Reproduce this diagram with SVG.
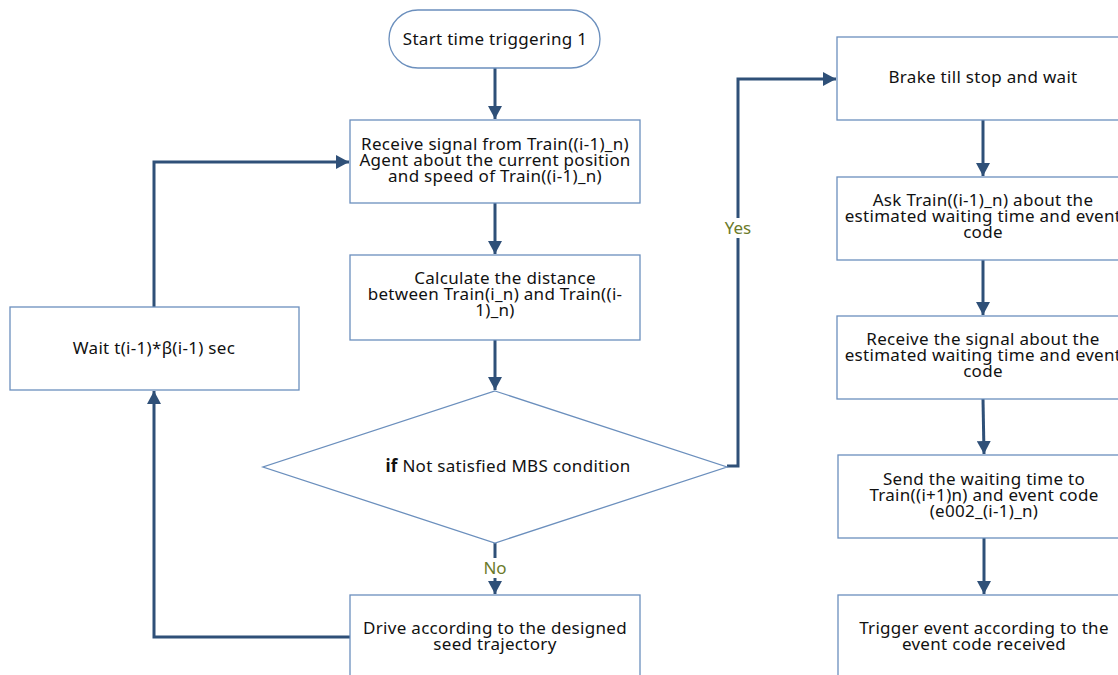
<svg xmlns="http://www.w3.org/2000/svg" width="1118" height="675" viewBox="0 0 1118 675">
<defs>
<marker id="ah" markerUnits="userSpaceOnUse" markerWidth="14" markerHeight="14" viewBox="0 0 14 14" refX="13" refY="7" orient="auto">
<path d="M0,0 L13,7 L0,14 Z" fill="#2f5078"/>
</marker>
<style>
.n{fill:#fff;stroke:#6b8fbd;stroke-width:1.3}
.t{font-family:"Noto Sans","Open Sans",sans-serif;font-size:17px;letter-spacing:0.3px;fill:#111;text-anchor:middle}
.c{fill:none;stroke:#2f5078;stroke-width:3}
.lb{font-family:"Noto Sans","Open Sans",sans-serif;font-size:17px;fill:#6b7a2a;text-anchor:middle}
</style>
</defs>
<rect width="1118" height="675" fill="#fff"/>
<g id="connectors">
<line class="c" x1="495" y1="68" x2="495" y2="119" marker-end="url(#ah)"/>
<line class="c" x1="495" y1="203" x2="495" y2="254" marker-end="url(#ah)"/>
<line class="c" x1="495" y1="340" x2="495" y2="390" marker-end="url(#ah)"/>
<line class="c" x1="495" y1="543" x2="495" y2="594" marker-end="url(#ah)"/>
<polyline class="c" points="727,466 738,466 738,79 836,79" marker-end="url(#ah)"/>
<polyline class="c" points="350,637 154,637 154,391" marker-end="url(#ah)"/>
<polyline class="c" points="154,307 154,162 349,162" marker-end="url(#ah)"/>
<line class="c" x1="983" y1="120" x2="983" y2="176" marker-end="url(#ah)"/>
<line class="c" x1="983" y1="260" x2="983" y2="315" marker-end="url(#ah)"/>
<line class="c" x1="983" y1="399" x2="984" y2="454" marker-end="url(#ah)"/>
<line class="c" x1="984" y1="538" x2="984" y2="594" marker-end="url(#ah)"/>
<rect x="722" y="218" width="32" height="20" fill="#fff"/>
<text class="lb" x="738" y="234">Yes</text>
<rect x="480" y="558" width="30" height="20" fill="#fff"/>
<text class="lb" x="495" y="574">No</text>
</g>
<g id="start">
<rect class="n" x="389" y="10" width="211" height="58" rx="29"/>
<text class="t" x="495" y="45">Start time triggering 1</text>
</g>
<g id="receive">
<rect class="n" x="350" y="120" width="290" height="83"/>
<text class="t" x="495" y="150">Receive signal from Train((i-1)_n)<tspan x="495" dy="16">Agent about the current position</tspan><tspan x="495" dy="16">and speed of Train((i-1)_n)</tspan></text>
</g>
<g id="calculate">
<rect class="n" x="350" y="255" width="290" height="85"/>
<text class="t" x="505" y="284">Calculate the distance<tspan x="495" dy="16">between Train(i_n) and Train((i-</tspan><tspan x="495" dy="16">1)_n)</tspan></text>
</g>
<g id="decision">
<polygon class="n" points="495,391 727,467 495,543 263,467"/>
<text class="t" x="508" y="472"><tspan font-weight="bold">if</tspan> Not satisfied MBS condition</text>
</g>
<g id="drive">
<rect class="n" x="350" y="595" width="290" height="90"/>
<text class="t" x="495" y="634">Drive according to the designed<tspan x="495" dy="16">seed trajectory</tspan></text>
</g>
<g id="wait">
<rect class="n" x="10" y="307" width="289" height="83"/>
<text class="t" x="154" y="354">Wait t(i-1)*β(i-1) sec</text>
</g>
<g id="brake">
<rect class="n" x="837" y="37" width="292" height="83"/>
<text class="t" x="983" y="83">Brake till stop and wait</text>
</g>
<g id="ask">
<rect class="n" x="837" y="177" width="292" height="83"/>
<text class="t" x="983" y="206">Ask Train((i-1)_n) about the<tspan x="983" dy="16">estimated waiting time and event</tspan><tspan x="983" dy="16">code</tspan></text>
</g>
<g id="receive2">
<rect class="n" x="837" y="316" width="292" height="83"/>
<text class="t" x="983" y="345">Receive the signal about the<tspan x="983" dy="16">estimated waiting time and event</tspan><tspan x="983" dy="16">code</tspan></text>
</g>
<g id="send">
<rect class="n" x="838" y="455" width="292" height="83"/>
<text class="t" x="984" y="485">Send the waiting time to<tspan x="984" dy="16">Train((i+1)n) and event code</tspan><tspan x="984" dy="16">(e002_(i-1)_n)</tspan></text>
</g>
<g id="trigger">
<rect class="n" x="838" y="595" width="292" height="90"/>
<text class="t" x="984" y="634">Trigger event according to the<tspan x="984" dy="16">event code received</tspan></text>
</g>
</svg>
